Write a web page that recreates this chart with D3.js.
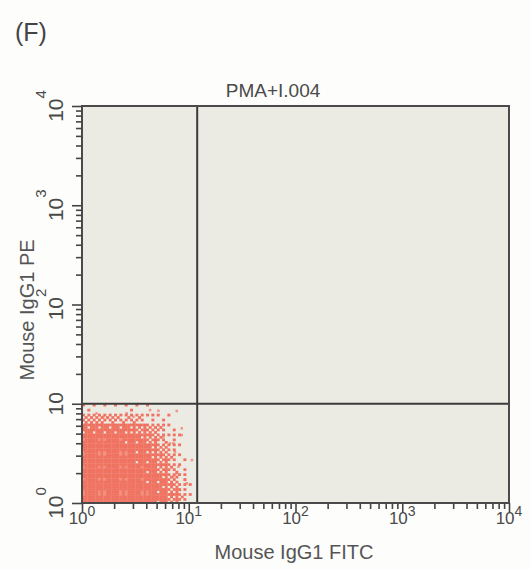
<!DOCTYPE html>
<html>
<head>
<meta charset="utf-8">
<script src="https://cdn.jsdelivr.net/npm/d3@7"></script>
<style>
  body { margin: 0; background: #fdfdfc; }
  text { font-family: "Liberation Sans", Arial, sans-serif; }
</style>
</head>
<body>
<div id="chart"></div>
<script>
// panel text
var panelLabel = "(F)"
var title = "PMA+I.004"
var xTitle = "Mouse IgG1 FITC"
var yTitle = "Mouse IgG1 PE"

// axis decades (10^n)
var decades = [0, 1, 2, 3, 4]

// quadrant gates (fluorescence units)
var gateX = 12
var gateY = 10

// density grid, bin edges in log10 units
var binEdgesX = [0, 0.1, 0.2, 0.3, 0.4, 0.5, 0.6, 0.7, 0.8, 0.9, 1.0, 1.1]
var binEdgesY = [0, 0.1, 0.2, 0.3, 0.4, 0.5, 0.6, 0.7, 0.8, 0.9, 1.0]
// rows from bottom (y bin 0) to top, relative event density 0..1
var density = [
  [1, 1, 1, 1, 1, 1, 1, 0.95, 0.7, 0.3, 0.05],
  [1, 1, 1, 1, 1, 1, 1, 0.9, 0.6, 0.25, 0.05],
  [1, 1, 1, 1, 1, 1, 0.95, 0.85, 0.5, 0.2, 0.03],
  [1, 1, 1, 1, 1, 1, 0.95, 0.7, 0.4, 0.15, 0.03],
  [1, 1, 1, 1, 1, 0.95, 0.9, 0.6, 0.3, 0.1, 0.02],
  [1, 1, 1, 1, 1, 0.95, 0.8, 0.5, 0.25, 0.08, 0],
  [1, 1, 1, 1, 0.95, 0.9, 0.65, 0.4, 0.2, 0.05, 0],
  [0.9, 0.9, 0.85, 0.85, 0.8, 0.7, 0.5, 0.3, 0.1, 0.03, 0],
  [0.5, 0.5, 0.45, 0.4, 0.35, 0.3, 0.2, 0.1, 0.05, 0, 0],
  [0.1, 0.06, 0.06, 0.06, 0.1, 0.06, 0.06, 0.03, 0, 0, 0]
]

// scattered single events outside the main cloud
var eventsX = [4.34, 5.19, 7.71, 8.59, 10.7, 9.22, 7.17, 7.98, 6.67, 7.43, 5.78, 8.28, 8.59, 9.57, 7.71, 7.17, 2.62, 3.03, 1.58, 1.37]
var eventsY = [8.65, 8.51, 8.45, 5.66, 2.71, 1.71, 1.84, 2.32, 3.99, 3.29, 4.66, 1.35, 4.84, 1.58, 1.99, 3.99, 8.01, 7.41, 7.41, 8.01]

var svgWidth = 531
var svgHeight = 570

var margin = {top: 106, right: 22, bottom: 67, left: 82}
var chartWidth = svgWidth - margin.left - margin.right
var chartHeight = svgHeight - margin.top - margin.bottom

var plotBg = "#ebebe4"
var dotColor = "#f07361"
var ink = "#3a3a3a"

var svg = d3.select("#chart")
  .append("svg")
  .attr("width", svgWidth)
  .attr("height", svgHeight)

var chartGroup = svg.append("g")
  .attr("transform", `translate(${margin.left}, ${margin.top})`)

var xScale = d3.scaleLog().domain([1, 1e4]).range([0, chartWidth])
var yScale = d3.scaleLog().domain([1, 1e4]).range([chartHeight, 0])

chartGroup.append("rect")
  .attr("width", chartWidth)
  .attr("height", chartHeight)
  .attr("fill", plotBg)

// density cells drawn as ordered-dither dots (4x4 per cell)
var bayer = [[0, 8, 2, 10], [12, 4, 14, 6], [3, 11, 1, 9], [15, 7, 13, 5]]
var dots = []
density.forEach((row, j) => {
  row.forEach((v, i) => {
    var x0 = xScale(Math.pow(10, binEdgesX[i])), x1 = xScale(Math.pow(10, binEdgesX[i + 1]))
    var y0 = yScale(Math.pow(10, binEdgesY[j + 1])), y1 = yScale(Math.pow(10, binEdgesY[j]))
    for (var a = 0; a < 4; a++) {
      for (var b = 0; b < 4; b++) {
        if (v > (bayer[a][b] + 0.5) / 16) {
          dots.push({
            x: x0 + (x1 - x0) * b / 4,
            y: y0 + (y1 - y0) * a / 4,
            w: (x1 - x0) / 4,
            h: (y1 - y0) / 4,
            light: v == 1 && bayer[(a + j) % 4][(b + 2 * i) % 4] == 0
          })
        }
      }
    }
  })
})

chartGroup.append("g")
  .selectAll("rect")
  .data(dots)
  .enter()
  .append("rect")
  .attr("x", d => d.x)
  .attr("y", d => d.y)
  .attr("width", d => d.w + 0.3)
  .attr("height", d => d.h + 0.3)
  .attr("fill", d => d.light ? "#f28e7c" : dotColor)

chartGroup.append("g")
  .selectAll("rect")
  .data(eventsX.map((x, k) => [x, eventsY[k]]))
  .enter()
  .append("rect")
  .attr("x", d => xScale(d[0]) - 1.2)
  .attr("y", d => yScale(d[1]) - 1.2)
  .attr("width", 2.5)
  .attr("height", 2.5)
  .attr("fill", dotColor)
  .attr("opacity", 0.7)

// gates
chartGroup.append("line")
  .attr("x1", xScale(gateX)).attr("x2", xScale(gateX))
  .attr("y1", 0).attr("y2", chartHeight)
  .attr("stroke", ink).attr("stroke-width", 2)
chartGroup.append("line")
  .attr("x1", 0).attr("x2", chartWidth)
  .attr("y1", yScale(gateY)).attr("y2", yScale(gateY))
  .attr("stroke", ink).attr("stroke-width", 2)

// frame
chartGroup.append("rect")
  .attr("width", chartWidth)
  .attr("height", chartHeight)
  .attr("fill", "none")
  .attr("stroke", "#4a4a4a")
  .attr("stroke-width", 2)

// axes: minor + major ticks
var allTicks = xScale.ticks()
var majors = decades.map(n => Math.pow(10, n))
var minors = allTicks.filter(t => majors.indexOf(t) < 0)

function styleAxis(g) {
  g.select(".domain").remove()
  g.selectAll("line").attr("stroke", "#444").attr("stroke-width", 1.6)
}

chartGroup.append("g")
  .attr("transform", `translate(0, ${chartHeight})`)
  .call(d3.axisBottom(xScale).tickValues(minors).tickSize(6).tickFormat(""))
  .call(styleAxis)
chartGroup.append("g")
  .attr("transform", `translate(0, ${chartHeight})`)
  .call(d3.axisBottom(xScale).tickValues(majors).tickSize(10).tickFormat(""))
  .call(styleAxis)
chartGroup.append("g")
  .call(d3.axisLeft(yScale).tickValues(minors).tickSize(6).tickFormat(""))
  .call(styleAxis)
chartGroup.append("g")
  .call(d3.axisLeft(yScale).tickValues(majors).tickSize(10).tickFormat(""))
  .call(styleAxis)

// x tick labels 10^n
var xLabels = chartGroup.selectAll(".xlab")
  .data(decades)
  .enter()
  .append("text")
  .attr("class", "xlab")
  .attr("x", d => xScale(Math.pow(10, d)))
  .attr("y", chartHeight + 21)
  .attr("text-anchor", "middle")
  .attr("fill", "#4a4a4a")
  .attr("font-size", 17)
xLabels.append("tspan").text("10")
xLabels.append("tspan").attr("dy", -8).attr("font-size", 14).text(d => d)

// y tick labels, rotated
var yLabels = chartGroup.selectAll(".ylab")
  .data(decades)
  .enter()
  .append("text")
  .attr("class", "ylab")
  .attr("transform", d => `translate(-19, ${yScale(Math.pow(10, d))}) rotate(-90)`)
  .attr("text-anchor", "middle")
  .attr("fill", "#4a4a4a")
  .attr("font-size", 21)
yLabels.append("tspan").text("10")
yLabels.append("tspan").attr("dy", d => d == 1 ? 0 : -17).attr("font-size", 15).text(d => d == 1 ? "" : d)

// titles
svg.append("text")
  .attr("x", 15).attr("y", 41)
  .attr("font-size", 25)
  .attr("fill", "#444")
  .text(panelLabel)

svg.append("text")
  .attr("x", 273).attr("y", 97)
  .attr("text-anchor", "middle")
  .attr("font-size", 19)
  .attr("fill", "#4a4a4a")
  .text(title)

svg.append("text")
  .attr("x", 294).attr("y", 559)
  .attr("text-anchor", "middle")
  .attr("font-size", 20)
  .attr("fill", "#555")
  .text(xTitle)

svg.append("text")
  .attr("transform", "translate(34, 310) rotate(-90)")
  .attr("text-anchor", "middle")
  .attr("font-size", 20)
  .attr("fill", "#555")
  .text(yTitle)
</script>
</body>
</html>
